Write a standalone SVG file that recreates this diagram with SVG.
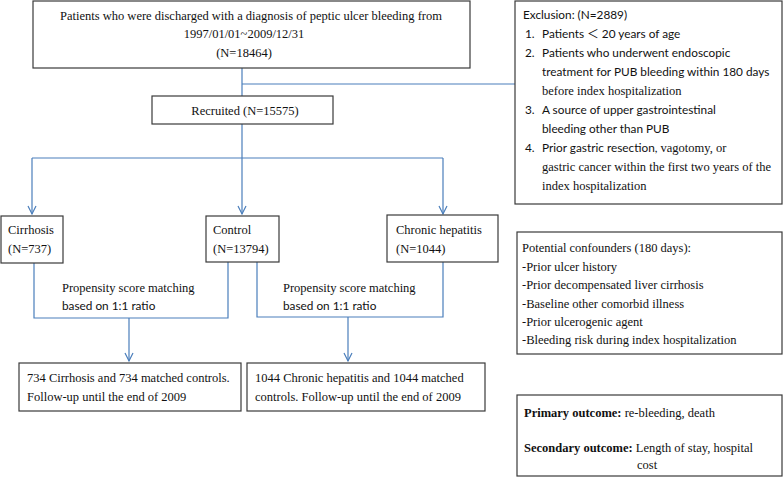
<svg xmlns="http://www.w3.org/2000/svg" width="783" height="479" viewBox="0 0 783 479">
<style>
.box{fill:#fff;stroke:#3a3a3a;stroke-width:1.2}
.t{font-family:"Liberation Serif","Times New Roman",serif;font-size:12.5px;fill:#111}
.s{font-family:Lato,"Noto Sans","Noto Sans CJK TC",sans-serif;font-size:11.8px;fill:#111}
.b{font-weight:bold}
.c{fill:none;stroke:#4A7EBB;stroke-width:1.2}
</style>
<defs>
<marker id="arr" markerUnits="userSpaceOnUse" markerWidth="12" markerHeight="12" refX="8" refY="0" viewBox="-1 -6 10 12" orient="auto" overflow="visible">
<path d="M0,-4 L8,0 L0,4" fill="none" stroke="#4A7EBB" stroke-width="1.2"/>
</marker>
</defs>
<rect width="783" height="479" fill="#fff"/>
<g id="connectors">
<path class="c" d="M242,68 V96"/>
<path class="c" d="M242,84 H515"/>
<path class="c" d="M242,124 V214" marker-end="url(#arr)"/>
<path class="c" d="M32,158 H443"/>
<path class="c" d="M32,158 V214" marker-end="url(#arr)"/>
<path class="c" d="M443,158 V214" marker-end="url(#arr)"/>
<path class="c" d="M34,263 V318 H228 V262"/>
<path class="c" d="M257,262 V317 H443 V262"/>
<path class="c" d="M129,318 V361" marker-end="url(#arr)"/>
<path class="c" d="M348,317 V361" marker-end="url(#arr)"/>
<text class="t" x="62" y="291.5">Propensity score matching</text>
<text class="s" x="62" y="309.5">based on 1:1 ratio</text>
<text class="t" x="283" y="291.5">Propensity score matching</text>
<text class="s" x="283" y="309.5">based on 1:1 ratio</text>
</g>
<g id="source">
<rect class="box" x="33" y="1" width="437" height="67"/>
<text class="t" x="251" y="19.5" text-anchor="middle">Patients who were discharged with a diagnosis of peptic ulcer bleeding from</text>
<text class="t" x="244" y="38" text-anchor="middle">1997/01/01~2009/12/31</text>
<text class="t" x="244" y="57" text-anchor="middle">(N=18464)</text>
</g>
<g id="recruited">
<rect class="box" x="152" y="96" width="181" height="28"/>
<text class="t" x="245" y="114.5" text-anchor="middle">Recruited (N=15575)</text>
</g>
<g id="exclusion">
<rect class="box" x="515" y="1" width="267" height="203"/>
<text class="s" x="523" y="19">Exclusion: (N=2889)</text>
<text class="s" x="525" y="38">1.</text><text class="s" x="542" y="38">Patients ＜ 20 years of age</text>
<text class="s" x="525" y="57">2.</text><text class="s" x="542" y="57">Patients who underwent endoscopic</text>
<text class="s" x="542" y="76">treatment for PUB bleeding within 180 days</text>
<text class="t" x="542" y="95">before index hospitalization</text>
<text class="s" x="525" y="114">3.</text><text class="s" x="542" y="114">A source of upper gastrointestinal</text>
<text class="s" x="542" y="133">bleeding other than PUB</text>
<text class="s" x="525" y="152">4.</text><text x="542" y="152"><tspan class="s">Prior gastric resection, </tspan><tspan class="t">vagotomy, or</tspan></text>
<text class="t" x="542" y="171">gastric cancer within the first two years of the</text>
<text class="t" x="542" y="190">index hospitalization</text>
</g>
<g id="cirrhosis">
<rect class="box" x="1" y="216" width="62" height="47"/>
<text class="t" x="8" y="233.5">Cirrhosis</text>
<text class="t" x="8" y="252.5">(N=737)</text>
</g>
<g id="control">
<rect class="box" x="206" y="216" width="73" height="46"/>
<text class="t" x="213" y="233.5">Control</text>
<text class="t" x="213" y="252.5">(N=13794)</text>
</g>
<g id="chronic">
<rect class="box" x="387" y="215" width="111" height="47"/>
<text class="t" x="396" y="234">Chronic hepatitis</text>
<text class="t" x="396" y="253">(N=1044)</text>
</g>
<g id="confounders">
<rect class="box" x="517" y="232" width="265" height="122"/>
<text class="t" x="522" y="251.5">Potential confounders (180 days):</text>
<text class="t" x="522" y="270.5">-Prior ulcer history</text>
<text class="t" x="522" y="288.5">-Prior decompensated liver cirrhosis</text>
<text class="t" x="522" y="307.5">-Baseline other comorbid illness</text>
<text class="t" x="522" y="325.5">-Prior ulcerogenic agent</text>
<text class="t" x="522" y="343.5">-Bleeding risk during index hospitalization</text>
</g>
<g id="matched-cirrhosis">
<rect class="box" x="19" y="363" width="222" height="48"/>
<text class="t" x="27" y="381.5">734 Cirrhosis and 734 matched controls.</text>
<text class="t" x="27" y="400.5">Follow-up until the end of 2009</text>
</g>
<g id="matched-chronic">
<rect class="box" x="247" y="363" width="238" height="48"/>
<text class="t" x="255" y="381.5">1044 Chronic hepatitis and 1044 matched</text>
<text class="t" x="255" y="400.5">controls. Follow-up until the end of 2009</text>
</g>
<g id="outcomes">
<rect class="box" x="517" y="395" width="265" height="81"/>
<text class="t" x="524" y="416.5"><tspan class="b">Primary outcome:</tspan> re-bleeding, death</text>
<text class="t" x="524" y="451.5"><tspan class="b">Secondary outcome:</tspan> Length of stay, hospital</text>
<text class="t" x="637" y="468.5">cost</text>
</g>
</svg>
